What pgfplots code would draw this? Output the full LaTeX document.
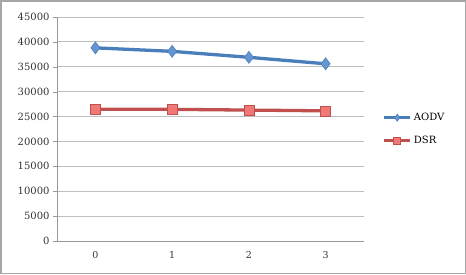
\documentclass[border=0pt]{standalone}
\usepackage{pgfplots}
\pgfplotsset{compat=1.18}
\usepackage{fontspec}
\setmainfont{DejaVu Serif}
\definecolor{aodv}{RGB}{74,126,187}
\definecolor{aodvf}{RGB}{100,150,210}
\definecolor{dsr}{RGB}{192,80,77}
\definecolor{dsrf}{RGB}{240,120,118}
\definecolor{gridc}{RGB}{190,190,190}
\definecolor{txt}{RGB}{50,50,50}
\begin{document}
\begin{tikzpicture}[x=1pt,y=1pt]
\draw[draw=gray!70, line width=1.5pt] (0.75,0.75) rectangle (465.25,273.25);
\begin{axis}[
  at={(95.4pt,33pt)}, anchor=origin,
  scale only axis, width=307pt, height=224pt,
  xmin=-0.5, xmax=3.5, ymin=0, ymax=45000,
  xtick={0,1,2,3}, ytick={0,5000,...,45000},
  axis x line*=bottom, axis y line*=left,
  axis line style={draw=gray!80},
  ymajorgrids, grid style={gridc, line width=0.8pt},
  major x tick style={draw=none},
  major y tick style={draw=gray!80},
  tick align=outside, major tick length=4pt,
  scaled y ticks=false,
  yticklabel style={/pgf/number format/1000 sep={}, font=\fontsize{10}{12}\selectfont, text=txt},
  xticklabel style={font=\fontsize{9.5}{11}\selectfont, text=txt, yshift=-3pt},
  /pgf/number format/assume math mode=true,
  legend style={at={(1.06,0.58)}, anchor=north west, draw=none, fill=none,
    font=\fontsize{10}{12}\selectfont, row sep=10pt, inner sep=0pt},
  legend cell align=left,
  legend image code/.code={\draw[#1] (0pt,0pt) -- (26pt,0pt); \draw[#1, mark size=3.5pt] plot coordinates {(13pt,0pt)};},
]
\addplot[aodv, line width=3.3pt, mark=diamond*, mark size=6pt, mark options={fill=aodvf, draw=aodv, line width=0.6pt}]
  coordinates {(0,38800) (1,38100) (2,36900) (3,35600)};
\addlegendentry{AODV}
\addplot[dsr, line width=3.3pt, mark=square*, mark size=5pt, mark options={fill=dsrf, draw=dsr, line width=0.6pt}]
  coordinates {(0,26450) (1,26450) (2,26300) (3,26150)};
\addlegendentry{DSR}
\end{axis}
\end{tikzpicture}
\end{document}
